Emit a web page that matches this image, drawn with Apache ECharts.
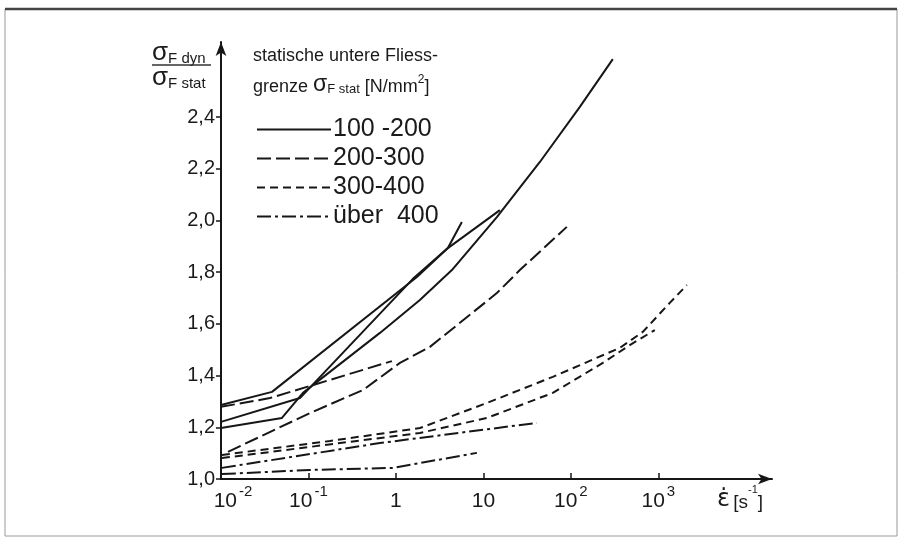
<!DOCTYPE html>
<html>
<head>
<meta charset="utf-8">
<script src="https://cdn.jsdelivr.net/npm/echarts@6/dist/echarts.min.js"></script>
<style>
html, body { margin: 0; padding: 0; background: #fff; }
#chart { width: 901px; height: 540px; }
</style>
</head>
<body>
<div id="chart"></div>
<script>
// x: log10 der Dehngeschwindigkeit [s-1], y: sigma_F dyn / sigma_F stat
const xTicks = [-2, -1, 0, 1, 2, 3]
const yTicks = [1.0, 1.2, 1.4, 1.6, 1.8, 2.0, 2.2, 2.4]
const groups = ['100 -200', '200-300', '300-400', 'über  400']

// 100-200
const solidA = [[-2, 1.286], [-1.417, 1.337], [0.24, 1.781], [0.594, 1.893], [0.754, 1.994]]
const solidB = [[-2, 1.221], [-1.097, 1.313], [0.194, 1.774], [0.594, 1.893], [1.189, 2.04]]
const solidC = [[-2, 1.197], [-1.303, 1.236], [-1.063, 1.333], [-0.183, 1.565], [0.274, 1.692],
  [0.64, 1.808], [1.154, 2.013], [1.646, 2.226], [2.103, 2.439], [2.48, 2.624]]
// 200-300
const dashA = [[-2, 1.279], [-1.44, 1.313], [-0.046, 1.456]]
const dashB = [[-1.92, 1.105], [-0.983, 1.255], [-0.377, 1.344], [0.046, 1.449], [0.389, 1.511],
  [1.154, 1.719], [1.417, 1.808], [1.954, 1.975]]
// 300-400
const shortA = [[-1.99, 1.093], [-0.754, 1.147], [0.274, 1.197], [1.04, 1.294], [1.794, 1.395],
  [2.56, 1.507], [2.823, 1.569], [3.131, 1.681], [3.326, 1.75]]
const shortB = [[-1.99, 1.081], [0.274, 1.178], [1.04, 1.236], [1.794, 1.333], [2.366, 1.449],
  [2.674, 1.518], [2.96, 1.576]]
// über 400
const dotA = [[-1.99, 1.043], [-0.183, 1.139], [1.611, 1.217]]
const dotB = [[-1.99, 1.019], [-0.983, 1.035], [-0.034, 1.043], [0.926, 1.101]]

const ink = '#161616'
const font = 'Liberation Sans'
const styles = [
  'solid',
  [14, 5],
  [8, 5],
  [14, 4, 3, 4]
]

const curves = [
  { data: solidA, group: 0 },
  { data: solidB, group: 0 },
  { data: solidC, group: 0 },
  { data: dashA, group: 1 },
  { data: dashB, group: 1 },
  { data: shortA, group: 2 },
  { data: shortB, group: 2 },
  { data: dotA, group: 3 },
  { data: dotB, group: 3 }
]

const chart = echarts.init(document.getElementById('chart'))

const seriesArr = curves.map(c => {
  return {
    type: 'line',
    name: groups[c.group],
    data: c.data,
    symbol: 'none',
    animation: false,
    lineStyle: { color: ink, width: 2, type: styles[c.group] },
    itemStyle: { color: ink }
  }
})

const option = {
  backgroundColor: '#fff',
  animation: false,
  grid: { left: 221, top: 42, width: 551, height: 437, outerBoundsMode: 'none' },
  legend: {
    data: groups,
    orient: 'vertical',
    left: 251,
    top: 112,
    itemWidth: 74,
    itemHeight: 14,
    itemGap: 4,
    selectedMode: false,
    itemStyle: { opacity: 0 },
    textStyle: { fontSize: 25, fontFamily: font, color: '#1a1a1a', lineHeight: 22, padding: [0, 0, 0, -3] }
  },
  xAxis: {
    type: 'value',
    min: -2,
    max: 4.3,
    interval: 1,
    splitLine: { show: false },
    axisLine: {
      lineStyle: { color: ink, width: 2 },
      symbol: ['none', 'arrow'],
      symbolSize: [8, 14]
    },
    axisTick: { customValues: [-1, 0, 1, 2, 3], inside: true, length: 6, lineStyle: { color: ink, width: 1.5 } },
    axisLabel: {
      customValues: xTicks,
      margin: 5,
      color: '#1a1a1a',
      formatter: v => {
        if (v === 0) return '{n|1}'
        if (v === 1) return '{n|10}'
        if (v === -2) return '{f|10}{s|-2}'
        return '{n|10}{s|' + v + '}'
      },
      rich: {
        n: { fontSize: 21, fontFamily: font, lineHeight: 28, verticalAlign: 'bottom' },
        f: { fontSize: 21, fontFamily: font, lineHeight: 28, verticalAlign: 'bottom', padding: [0, 0, 0, 24] },
        s: { fontSize: 15, fontFamily: font, lineHeight: 15, verticalAlign: 'top', padding: [0, 0, 0, 2] }
      }
    }
  },
  yAxis: {
    type: 'value',
    min: 1.0,
    max: 2.69,
    interval: 0.2,
    splitLine: { show: false },
    axisLine: {
      onZero: false,
      lineStyle: { color: ink, width: 2 },
      symbol: ['none', 'arrow'],
      symbolSize: [8, 14]
    },
    axisTick: { customValues: yTicks, length: 5, lineStyle: { color: ink, width: 1.5 } },
    axisLabel: {
      customValues: yTicks,
      margin: 6,
      fontSize: 20,
      fontFamily: font,
      color: '#1a1a1a',
      formatter: v => v.toFixed(1).replace('.', ',')
    }
  },
  graphic: [
    // Rahmen
    { type: 'rect', shape: { x: 5, y: 9, width: 892, height: 527 }, style: { fill: 'none', stroke: '#999', lineWidth: 1 } },
    { type: 'line', shape: { x1: 5, y1: 9, x2: 897, y2: 9 }, style: { stroke: '#444', lineWidth: 2.5 } },
    // y-Achsentitel
    {
      type: 'text', left: 152, top: 40,
      style: {
        text: '{g|σ}{b|F dyn}',
        rich: {
          g: { fontSize: 26, fontFamily: font, fill: '#1a1a1a', lineHeight: 24, verticalAlign: 'bottom' },
          b: { fontSize: 15, fontFamily: font, fill: '#1a1a1a', lineHeight: 15, verticalAlign: 'bottom' }
        }
      }
    },
    { type: 'line', shape: { x1: 152, y1: 65, x2: 211, y2: 65 }, style: { stroke: '#333', lineWidth: 1.5 } },
    {
      type: 'text', left: 152, top: 65,
      style: {
        text: '{g|σ}{b|F stat}',
        rich: {
          g: { fontSize: 26, fontFamily: font, fill: '#1a1a1a', lineHeight: 24, verticalAlign: 'bottom' },
          b: { fontSize: 15, fontFamily: font, fill: '#1a1a1a', lineHeight: 15, verticalAlign: 'bottom' }
        }
      }
    },
    // Legendentitel
    {
      type: 'text', left: 253, top: 47,
      style: { text: 'statische untere Fliess-', fontSize: 18, fontFamily: font, fill: '#1a1a1a' }
    },
    {
      type: 'text', left: 253, top: 73,
      style: {
        text: '{t|grenze }{g|σ}{b|F stat}{t| [N/mm}{p|2}{t|]}',
        rich: {
          t: { fontSize: 18, fontFamily: font, fill: '#1a1a1a', lineHeight: 22, verticalAlign: 'bottom' },
          g: { fontSize: 23, fontFamily: font, fill: '#1a1a1a', lineHeight: 22, verticalAlign: 'bottom' },
          b: { fontSize: 13, fontFamily: font, fill: '#1a1a1a', lineHeight: 13, verticalAlign: 'bottom' },
          p: { fontSize: 12, fontFamily: font, fill: '#1a1a1a', lineHeight: 12, verticalAlign: 'top' }
        }
      }
    },
    // x-Achsentitel
    {
      type: 'text', left: 717, top: 484,
      style: {
        text: '{e|ε̇} {t|[s}{p|-1}{t|]}',
        rich: {
          e: { fontSize: 24, fontFamily: 'DejaVu Sans', fill: '#1a1a1a', lineHeight: 28, verticalAlign: 'bottom' },
          t: { fontSize: 19, fontFamily: font, fill: '#1a1a1a', lineHeight: 28, verticalAlign: 'bottom' },
          p: { fontSize: 11, fontFamily: font, fill: '#1a1a1a', lineHeight: 18, verticalAlign: 'top' }
        }
      }
    }
  ],
  series: seriesArr
}

chart.setOption(option)
</script>
</body>
</html>
